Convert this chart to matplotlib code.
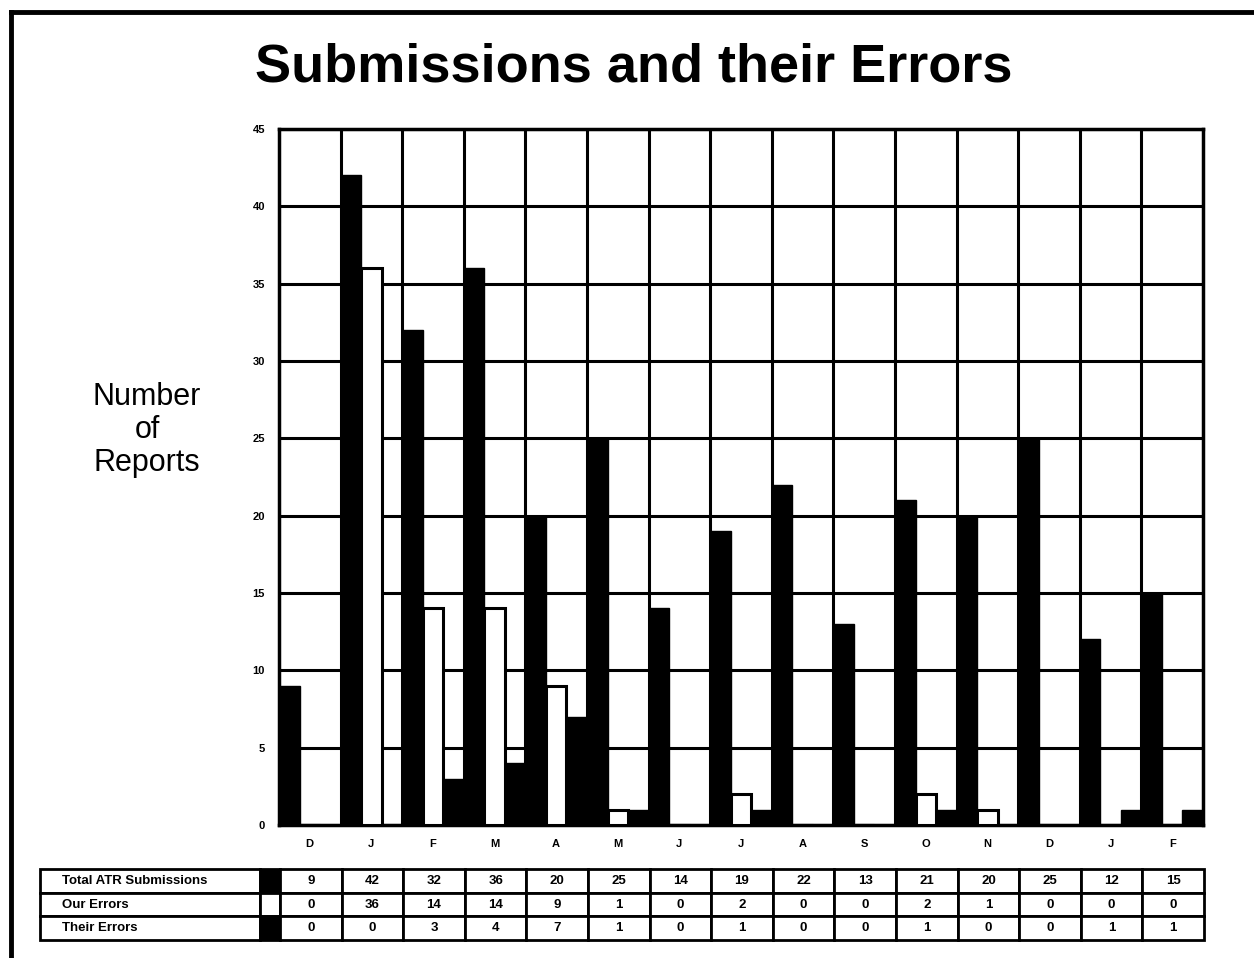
import matplotlib.pyplot as plt
import numpy as np

plt.rcParams['font.family'] = ['Liberation Sans', 'DejaVu Sans']

# data
months = ['D', 'J', 'F', 'M', 'A', 'M', 'J', 'J', 'A', 'S', 'O', 'N', 'D', 'J', 'F']
total_atr = [9, 42, 32, 36, 20, 25, 14, 19, 22, 13, 21, 20, 25, 12, 15]
our_errors = [0, 36, 14, 14, 9, 1, 0, 2, 0, 0, 2, 1, 0, 0, 0]
their_errors = [0, 0, 3, 4, 7, 1, 0, 1, 0, 0, 1, 0, 0, 1, 1]
row_labels = ['Total ATR Submissions', 'Our Errors', 'Their Errors']
swatch_colors = ['black', 'white', 'black']

W, H = 1254, 958
fig = plt.figure(figsize=(W / 100, H / 100), dpi=100)

# main axes
ax = fig.add_axes([279 / W, 1 - 825 / H, 924 / W, 696 / H])
x = np.arange(len(months))
bw = 1 / 3
ax.bar(x - bw, total_atr, width=bw, color='black', edgecolor='black', linewidth=1, zorder=3)
ax.bar(x, our_errors, width=bw, color='white', edgecolor='black', linewidth=2.2, zorder=3)
ax.bar(x + bw, their_errors, width=bw, color='black', edgecolor='black', linewidth=1, zorder=3)

ax.set_xlim(-0.5, len(months) - 0.5)
ax.set_ylim(0, 45)
ax.set_yticks(np.arange(0, 46, 5))
ax.set_xticks(x)
ax.set_xticklabels(months, fontsize=8, fontweight='bold')
ax.set_yticklabels([str(v) for v in range(0, 46, 5)], fontsize=8, fontweight='bold')
ax.tick_params(length=0, pad=10)
ax.set_xticks(np.arange(0.5, len(months) - 0.5, 1), minor=True)
ax.tick_params(which='minor', length=0)
ax.grid(True, which='major', axis='y', color='black', linewidth=2.2)
ax.grid(True, which='minor', axis='x', color='black', linewidth=2.2)
ax.set_axisbelow(True)
for s in ax.spines.values():
    s.set_linewidth(2.5)

# title and y label
fig.text(0.505, 1 - 68 / H, 'Submissions and their Errors', ha='center', va='center',
         fontsize=39, fontweight='bold')
fig.text(147 / W, 1 - 430 / H, 'Number\nof\nReports', ha='center', va='center',
         fontsize=22, linespacing=1.12, fontweight='medium')

# data table below the chart
tab_ax = fig.add_axes([40 / W, 1 - 940 / H, 1164 / W, 71 / H])
tab_ax.axis('off')
cell_text = []
cell_colors = []
for lab, sw, vals in zip(row_labels, swatch_colors, [total_atr, our_errors, their_errors]):
    cell_text.append([lab, ''] + [str(v) for v in vals])
    cell_colors.append(['white', sw] + ['white'] * len(vals))
col_w = [220, 20] + [924 / len(months)] * len(months)
col_w = [c / sum(col_w) for c in col_w]
table = tab_ax.table(cellText=cell_text, cellColours=cell_colors, colWidths=col_w,
                     cellLoc='center', bbox=[0, 0, 1, 1])
table.auto_set_font_size(False)
for (r, c), cell in table.get_celld().items():
    cell.set_linewidth(2)
    cell.get_text().set_fontsize(9.5)
    cell.get_text().set_fontweight('bold')
    if c == 0:
        cell.get_text().set_horizontalalignment('left')
        cell.PAD = 0.1

# scan frame (left and top edges)
fig.add_artist(plt.Line2D([11 / W, 11 / W], [0, 1 - 12 / H], color='black', linewidth=3.5))
fig.add_artist(plt.Line2D([11 / W, 1], [1 - 12 / H, 1 - 12 / H], color='black', linewidth=3.5))

plt.savefig('out.png', dpi=100)
